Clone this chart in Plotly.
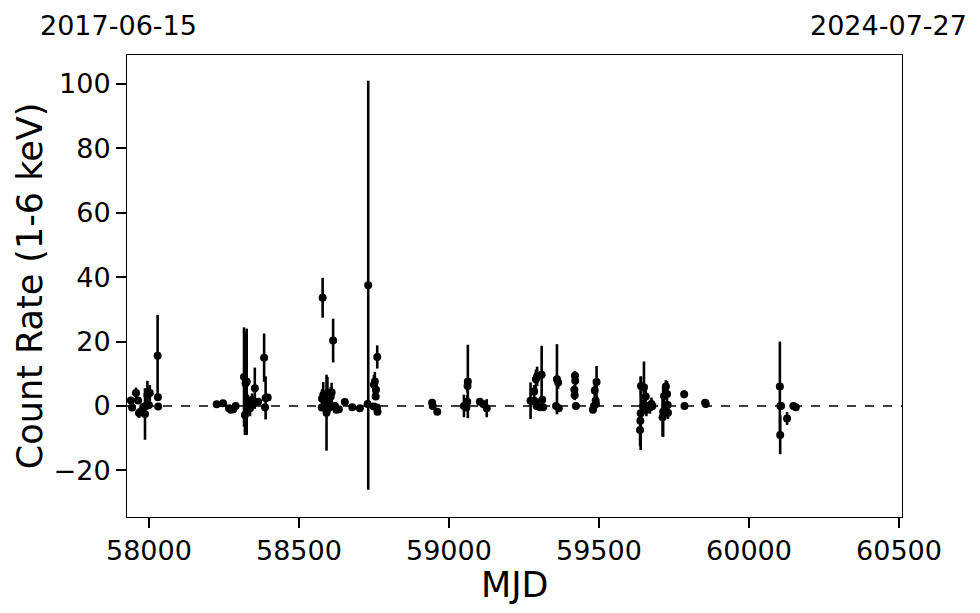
import plotly.graph_objects as go

mjd = [
    57940, 57944, 57957, 57964, 57967, 57981, 57987, 57990, 57995, 58000, 58003, 58029, 58030, 58031,
    58226, 58247, 58267, 58273, 58281, 58289, 58317, 58320, 58326, 58322, 58330, 58337, 58344, 58348, 58353,
    58364, 58384, 58387, 58389, 58396,
    58579, 58577, 58581, 58576, 58588, 58592, 58595, 58600, 58606, 58609, 58602, 58614, 58620, 58625,
    58633, 58653, 58678, 58703, 58731, 58729, 58750, 58753, 58761, 58756, 58757, 58749, 58760, 58762,
    58944, 58946, 58961,
    59050, 59061, 59062, 59063, 59058, 59103, 59114, 59126,
    59272, 59284, 59288, 59290, 59294, 59292, 59303, 59309, 59311, 59314,
    59360, 59364, 59357, 59366, 59420, 59421, 59418, 59419, 59423,
    59483, 59480, 59486, 59489, 59490, 59492,
    59637, 59638, 59639, 59640, 59650, 59648, 59656, 59660, 59658, 59670, 59675, 59678,
    59712, 59714, 59717, 59723, 59722, 59727, 59730, 59729, 59784, 59785, 59854, 59856,
    60103, 60107, 60104, 60105, 60127, 60148, 60156,
]
rate = [
    1.7, -0.5, 4.0, 1.7, -2.2, -0.4, -2.5, 0.0, 3.4, 0.3, 4.0, 15.6, 2.7, -0.2,
    0.5, 0.8, -0.7, -1.2, -1.0, 0.0, 9.0, -2.8, 7.5, 7.0, 0.5, -0.7, 1.9, 1.0, 5.5,
    1.3, 15.0, -0.4, 2.5, 2.6,
    33.6, 2.2, 3.4, -0.5, 0.0, -2.1, 4.0, 1.3, 2.9, 4.2, -0.5, 20.3, 0.0, -1.2,
    -1.0, 1.2, -0.4, -0.7, 37.5, 0.6, 6.6, 7.6, 15.2, 2.9, 5.0, -0.2, -0.5, -1.8,
    1.0, 0.0, -1.8,
    0.0, 1.3, 6.2, 7.6, -0.5, 1.3, 0.6, -0.7,
    1.6, 4.5, 1.3, 8.3, 9.2, 0.0, -0.4, 9.7, 1.9, -0.4,
    8.3, 7.3, 0.0, -0.7, 9.4, 7.8, 5.0, 3.3, 0.0,
    0.0, -1.2, 4.8, 1.7, 0.6, 7.4,
    -7.5, -4.6, -2.3, 6.2, 5.8, 0.0, 2.9, 0.0, -1.2, -0.4, 0.6, 0.0,
    -3.5, -1.8, 3.1, 6.0, 0.0, 3.7, -2.1, 0.3, 3.6, 0.0, 1.0, 0.6,
    6.0, 0.0, -9.0, 0.0, -3.9, 0.0, -0.4,
]
err = [
    0.8, 0.8, 1.7, 0.8, 1.5, 1.0, 8.0, 1.0, 4.4, 1.0, 2.5, 12.7, 1.0, 0.8,
    0.6, 0.6, 0.8, 0.8, 0.8, 0.8, 15.4, 6.2, 16.5, 16.0, 3.0, 2.5, 2.0, 1.5, 6.4,
    1.0, 7.5, 1.0, 6.7, 1.0,
    6.2, 3.0, 4.0, 1.0, 2.0, 11.8, 5.0, 2.0, 3.0, 3.0, 1.5, 6.8, 1.0, 1.0,
    1.0, 0.6, 0.8, 0.8, 63.5, 1.0, 3.0, 3.0, 3.6, 1.0, 1.5, 1.0, 1.0, 1.0,
    0.8, 0.6, 0.8,
    3.5, 2.0, 2.0, 11.4, 1.0, 0.8, 1.0, 2.8,
    5.7, 2.0, 1.5, 3.0, 3.0, 1.0, 1.0, 9.0, 1.0, 1.0,
    10.9, 2.0, 1.0, 1.0, 1.5, 1.5, 1.5, 1.5, 1.0,
    1.0, 1.0, 2.0, 1.5, 1.0, 5.0,
    5.0, 3.0, 11.4, 3.0, 8.0, 2.0, 2.0, 1.0, 2.0, 2.0, 2.0, 1.0,
    6.0, 7.8, 3.0, 2.0, 1.0, 4.0, 2.0, 1.0, 1.2, 0.6, 0.8, 0.6,
    14.0, 1.0, 6.0, 1.0, 2.0, 0.8, 0.6,
]

x_ticks = [58000, 58500, 59000, 59500, 60000, 60500]
y_ticks = [-20, 0, 20, 40, 60, 80, 100]
start_label = "2017-06-15"
end_label = "2024-07-27"
x_title = "MJD"
y_title = "Count Rate (1-6 keV)"

font = "DejaVu Sans"
fig = go.Figure()
fig.add_trace(go.Scatter(
    x=mjd, y=rate, mode="markers",
    marker=dict(color="black", size=8),
    error_y=dict(type="data", array=err, visible=True, color="black", thickness=2.6, width=0),
    showlegend=False,
))
fig.add_hline(y=0, line=dict(color="black", dash="dash", width=1.5))

axis_common = dict(
    showgrid=False, zeroline=False, showline=True, linecolor="black", linewidth=1,
    mirror=True, ticks="outside", ticklen=10, tickwidth=1.6, tickcolor="black",
    tickfont=dict(family=font, size=27, color="black"), automargin=False,
)
fig.update_xaxes(range=[57927, 60510], tickvals=x_ticks, ticktext=[str(v) for v in x_ticks],
                 **axis_common)
fig.update_yaxes(range=[-34.5, 109], tickvals=y_ticks,
                 ticktext=[("\u2212" + str(-v)) if v < 0 else str(v) for v in y_ticks],
                 **axis_common)
fig.add_annotation(text=x_title, xref="paper", yref="paper", x=0.5, y=-0.147,
                   xanchor="center", yanchor="middle", showarrow=False,
                   font=dict(family=font, size=35, color="black"))
fig.add_annotation(text=y_title, xref="paper", yref="paper", x=-0.125, y=0.5, textangle=-90,
                   xanchor="center", yanchor="middle", showarrow=False,
                   font=dict(family=font, size=35, color="black"))
fig.add_annotation(text=start_label, xref="paper", yref="paper", x=-0.115, y=1.064,
                   xanchor="left", yanchor="middle", showarrow=False,
                   font=dict(family=font, size=27, color="black"))
fig.add_annotation(text=end_label, xref="paper", yref="paper", x=1.086, y=1.064,
                   xanchor="right", yanchor="middle", showarrow=False,
                   font=dict(family=font, size=27, color="black"))
fig.update_layout(
    width=980, height=613, plot_bgcolor="white", paper_bgcolor="white",
    margin=dict(l=119, r=86, t=47, b=104),
    font=dict(family=font),
)
fig.write_html("out.html")
